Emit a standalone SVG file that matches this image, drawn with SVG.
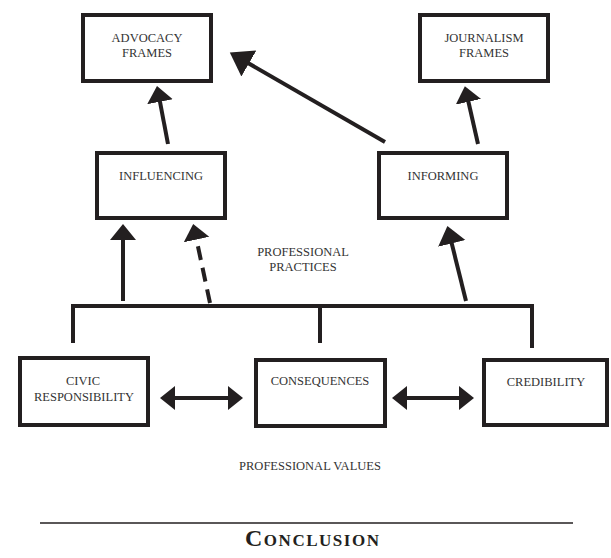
<svg xmlns="http://www.w3.org/2000/svg" width="611" height="558" viewBox="0 0 611 558">
<style>
.box{fill:#fff;stroke:#231f20;stroke-width:4}
.t{font-family:"Liberation Serif","Times New Roman",serif;font-size:12.5px;fill:#333;text-anchor:middle}
.c{fill:none;stroke:#231f20;stroke-width:4}
.dash{stroke-dasharray:14 8}
.conc{font-family:"Liberation Serif","Times New Roman",serif;font-size:24px;font-weight:bold;font-variant:small-caps;fill:#231f20;text-anchor:middle}
</style>
<defs>
<marker id="ah" markerUnits="userSpaceOnUse" markerWidth="20" markerHeight="30" refX="1" refY="13" orient="auto">
<path d="M0,0 L16,13 L0,26 Z" fill="#231f20"/>
</marker>
<marker id="ahb" markerUnits="userSpaceOnUse" markerWidth="26" markerHeight="34" refX="1" refY="15" orient="auto">
<path d="M0,0 L22,15 L0,30 Z" fill="#231f20"/>
</marker>
<marker id="ahm" markerUnits="userSpaceOnUse" markerWidth="22" markerHeight="32" refX="1" refY="14" orient="auto">
<path d="M0,0 L18,14 L0,28 Z" fill="#231f20"/>
</marker>
<marker id="ad" markerUnits="userSpaceOnUse" markerWidth="20" markerHeight="28" refX="1" refY="12" orient="auto-start-reverse">
<path d="M0,0 L15,12 L0,24 Z" fill="#231f20"/>
</marker>
</defs>
<g id="connectors">
<line class="c" x1="168" y1="144" x2="159.8" y2="100.8" marker-end="url(#ah)"/>
<line class="c" x1="478" y1="144" x2="468.2" y2="100.8" marker-end="url(#ah)"/>
<line class="c" x1="385" y1="142" x2="248" y2="63" marker-end="url(#ahb)"/>
<line class="c" x1="123" y1="301" x2="123" y2="239" marker-end="url(#ah)"/>
<line class="c dash" x1="210" y1="303" x2="196.3" y2="238.6" marker-end="url(#ah)"/>
<line class="c" x1="466" y1="301" x2="451.5" y2="242.5" marker-end="url(#ahm)"/>
<path class="c" d="M73,343 V306 H532 V348 M320,306 V343"/>
<line class="c" x1="174" y1="398" x2="229" y2="398" marker-start="url(#ad)" marker-end="url(#ad)"/>
<line class="c" x1="406" y1="398" x2="460" y2="398" marker-start="url(#ad)" marker-end="url(#ad)"/>
</g>
<g id="advocacy-frames">
<rect class="box" x="83" y="15" width="128" height="66"/>
<text class="t" x="147" y="42">ADVOCACY</text>
<text class="t" x="147" y="57">FRAMES</text>
</g>
<g id="journalism-frames">
<rect class="box" x="420" y="15" width="128" height="66"/>
<text class="t" x="484" y="42">JOURNALISM</text>
<text class="t" x="484" y="57">FRAMES</text>
</g>
<g id="influencing">
<rect class="box" x="97" y="153" width="128" height="65"/>
<text class="t" x="161" y="180">INFLUENCING</text>
</g>
<g id="informing">
<rect class="box" x="379" y="153" width="128" height="65"/>
<text class="t" x="443" y="180">INFORMING</text>
</g>
<g id="professional-practices">
<text class="t" x="303" y="256">PROFESSIONAL</text>
<text class="t" x="303" y="271">PRACTICES</text>
</g>
<g id="civic-responsibility">
<rect class="box" x="20" y="358" width="128" height="67"/>
<text class="t" x="83" y="385">CIVIC</text>
<text class="t" x="84" y="401">RESPONSIBILITY</text>
</g>
<g id="consequences">
<rect class="box" x="256" y="360" width="129" height="66"/>
<text class="t" x="320" y="385">CONSEQUENCES</text>
</g>
<g id="credibility">
<rect class="box" x="484" y="360" width="123" height="65"/>
<text class="t" x="546" y="386">CREDIBILITY</text>
</g>
<g id="professional-values">
<text class="t" x="310" y="470">PROFESSIONAL VALUES</text>
</g>
<g id="conclusion">
<line x1="40" y1="523" x2="573" y2="523" stroke="#231f20" stroke-width="1.5"/>
<text class="conc" x="312" y="546" textLength="134" lengthAdjust="spacing">Conclusion</text>
</g>
</svg>
